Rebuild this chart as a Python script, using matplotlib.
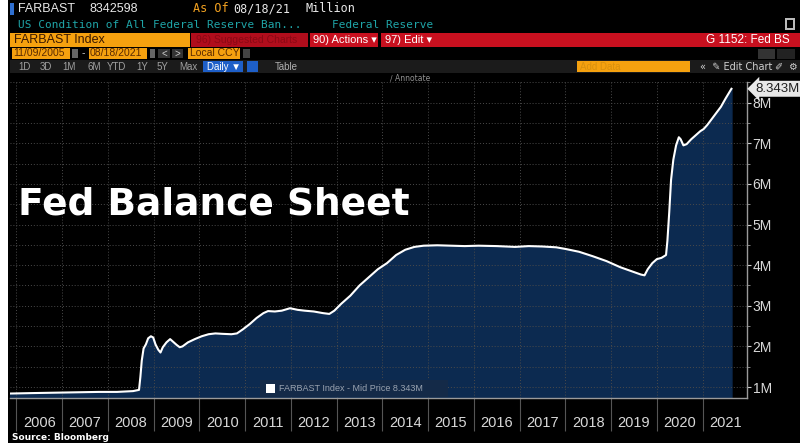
import matplotlib
matplotlib.use("Agg")
import matplotlib.pyplot as plt
from matplotlib.patches import Rectangle
import numpy as np

# FARBAST Index, decimal year vs value (millions of millions)
dates = [2005.86, 2006.3, 2006.8, 2007.3, 2007.8, 2008.2, 2008.55, 2008.68, 2008.71, 2008.74,
         2008.78, 2008.83, 2008.88, 2008.94, 2008.99, 2009.04, 2009.1, 2009.15, 2009.2, 2009.28,
         2009.36, 2009.42, 2009.5, 2009.57, 2009.63, 2009.75, 2009.9, 2010.05, 2010.2, 2010.35,
         2010.5, 2010.7, 2010.82, 2010.95, 2011.1, 2011.25, 2011.4, 2011.5, 2011.65, 2011.8,
         2011.98, 2012.15, 2012.3, 2012.5, 2012.7, 2012.84, 2012.95, 2013.1, 2013.3, 2013.5,
         2013.7, 2013.9, 2014.1, 2014.3, 2014.5, 2014.7, 2014.9, 2015.2, 2015.5, 2015.8,
         2016.1, 2016.5, 2016.9, 2017.2, 2017.5, 2017.8, 2018.0, 2018.3, 2018.6, 2018.9,
         2019.2, 2019.45, 2019.65, 2019.73, 2019.8, 2019.9, 2020.0, 2020.1, 2020.2, 2020.23,
         2020.27, 2020.31, 2020.36, 2020.42, 2020.48, 2020.52, 2020.58, 2020.65, 2020.75, 2020.85,
         2020.95, 2021.02, 2021.1, 2021.2, 2021.3, 2021.4, 2021.5, 2021.58, 2021.63]
values = [0.84, 0.85, 0.86, 0.87, 0.88, 0.88, 0.90, 0.93, 1.25, 1.65,
          1.95, 2.05, 2.20, 2.25, 2.22, 2.05, 1.92, 1.85, 1.98, 2.10,
          2.18, 2.12, 2.04, 1.98, 2.00, 2.10, 2.18, 2.25, 2.30, 2.32,
          2.31, 2.30, 2.32, 2.42, 2.55, 2.70, 2.82, 2.87, 2.86, 2.88,
          2.94, 2.90, 2.88, 2.86, 2.82, 2.80, 2.88, 3.05, 3.25, 3.50,
          3.70, 3.90, 4.05, 4.25, 4.38, 4.45, 4.48, 4.49, 4.48, 4.47,
          4.48, 4.47, 4.45, 4.47, 4.46, 4.44, 4.40, 4.33, 4.22, 4.10,
          3.95, 3.85, 3.77, 3.75, 3.90, 4.05, 4.15, 4.18, 4.25, 4.60,
          5.30, 6.10, 6.60, 6.95, 7.15, 7.10, 6.95, 6.98, 7.10, 7.20,
          7.30, 7.35, 7.45, 7.60, 7.75, 7.90, 8.10, 8.25, 8.343]
years = list(range(2006, 2022))
ytick_vals = [1, 2, 3, 4, 5, 6, 7, 8]
ytick_labels = ["1M", "2M", "3M", "4M", "5M", "6M", "7M", "8M"]
last_label = "8.343M"

W, H = 800, 443
fig = plt.figure(figsize=(8, 4.43), dpi=100, facecolor="black")


def fx(x):
    return x / W


def fy(y):
    return 1 - y / H


def box(x0, y0, x1, y1, color, z=1):
    fig.add_artist(Rectangle((fx(x0), fy(y1)), fx(x1) - fx(x0), fy(y0) - fy(y1),
                             transform=fig.transFigure, facecolor=color, edgecolor="none", zorder=z))


def txt(x, y, s, color="white", size=8, ha="left", family="Liberation Sans", weight="normal"):
    fig.text(fx(x), fy(y), s, color=color, fontsize=size, ha=ha, va="center",
             family=[family, "DejaVu Sans"], fontweight=weight, zorder=5)


# left white strip
box(0, 0, 8, H, "white", z=10)

# header row 1
box(10, 3, 14, 15, "#2f6fd0")
txt(18, 9, "FARBAST", "#e8e8e8", 9)
txt(90, 9, "8342598", "#e8e8e8", 9)
txt(193, 9, "As Of", "#f0a020", 8.5, family="DejaVu Sans Mono")
txt(233, 9, "08/18/21", "#e8e8e8", 8.5, family="DejaVu Sans Mono")
txt(305, 9, "Million", "#e8e8e8", 8.5, family="DejaVu Sans Mono")
# header row 2
txt(18, 25, "US Condition of All Federal Reserve Ban...", "#1fa5a8", 8, family="DejaVu Sans Mono")
txt(332, 25, "Federal Reserve", "#1fa5a8", 8, family="DejaVu Sans Mono")
box(785, 18, 795, 30, "#bbbbbb")
box(787, 20, 793, 28, "black")

# header row 3
box(10, 33, 190, 47, "#f5a10f")
txt(14, 40, "FARBAST Index", "#3a1800", 9)
box(191, 33, 308, 47, "#b00d1c")
txt(196, 40, "96) Suggested Charts", "#8a0814", 7.5)
box(310, 33, 378, 47, "#c8101f")
txt(313, 40, "90) Actions \u25be", "white", 8)
box(381, 33, 800, 47, "#c8101f")
txt(385, 40, "97) Edit \u25be", "white", 8)
txt(790, 40, "G 1152: Fed BS", "white", 8.5, ha="right")

# header row 4
box(12, 48, 70, 59, "#f5a10f")
txt(13, 53.5, "11/09/2005", "#5a2a00", 7.5)
box(72, 49, 78, 58, "#666666")
txt(82, 53.5, "-", "#cccccc", 7.5)
box(89, 48, 147, 59, "#f5a10f")
txt(90, 53.5, "08/18/2021", "#5a2a00", 7.5)
box(150, 49, 155, 58, "#666666")
box(158, 49, 170, 58, "#333333")
txt(164, 53.5, "<", "#cccccc", 7, ha="center")
box(172, 49, 183, 58, "#333333")
txt(177.5, 53.5, ">", "#cccccc", 7, ha="center")
box(188, 48, 240, 59, "#f5a10f")
txt(190, 53.5, "Local CCY", "#5a2a00", 7.5)
box(243, 49, 250, 58, "#444444")
box(758, 49, 775, 59, "#333333")
box(777, 49, 795, 59, "#222222")

# header row 5
box(10, 60, 800, 73, "#1b1b1b")
for lab, xp in zip(["1D", "3D", "1M", "6M", "YTD", "1Y", "5Y", "Max"],
                   [18, 40, 62, 87, 107, 136, 157, 179]):
    txt(xp, 66.5, lab, "#a0a0a0", 7)
box(203, 61, 243, 72, "#1e5fc8")
txt(207, 66.5, "Daily \u25bc", "white", 7)
box(247, 61, 258, 72, "#1e5fc8")
txt(275, 66.5, "Table", "#b0b0b0", 7)
box(577, 61, 690, 72, "#f5a10f")
txt(580, 66.5, "Add Data", "#d8900e", 7)
txt(700, 66.5, "\u00ab  \u270e Edit Chart", "#d0d0d0", 7, family="DejaVu Sans")
txt(774, 66.5, "\u2710", "#d0d0d0", 7, family="DejaVu Sans")
txt(788, 66.5, "\u2699", "#d0d0d0", 7, family="DejaVu Sans")
txt(390, 78, "\u2215 Annotate", "#909090", 5.5, family="DejaVu Sans")

# chart
ax = fig.add_axes([fx(10), fy(398), fx(747) - fx(10), fy(82) - fy(398)])
ax.set_facecolor("black")
ax.fill_between(dates, values, 0, color="#0c2a50", zorder=2)
ax.plot(dates, values, color="white", lw=1.5, zorder=3)
ax.set_xlim(2005.86, 2021.97)
ax.set_ylim(0.73, 8.51)

ax.set_xticks(years)
ax.set_xticklabels([])
ax.set_xticks([y + 0.5 for y in years], minor=True)
ax.set_xticklabels([str(y) for y in years], minor=True)
ax.tick_params(axis="x", which="major", length=24, width=0.8, color="#555555", direction="out")
ax.tick_params(axis="x", which="minor", length=0, pad=13, labelsize=10.5, labelcolor="#d8d8d8")
for lab in ax.get_xticklabels(minor=True):
    lab.set_family("Liberation Sans")

ax.yaxis.tick_right()
ax.set_yticks(ytick_vals)
ax.set_yticklabels(ytick_labels)
ax.set_yticks(np.arange(1.0, 8.6, 0.5), minor=True)
ax.tick_params(axis="y", which="major", length=3, width=0.8, color="#cccccc", pad=1,
               labelsize=10, labelcolor="#d8d8d8")
ax.tick_params(axis="y", which="minor", length=2, width=0.6, color="#999999")
for lab in ax.get_yticklabels():
    lab.set_family("Liberation Sans")

ax.yaxis.grid(True, which="both", color="#4a4a4a", linestyle=(0, (1, 2)), lw=0.7, zorder=1)
ax.xaxis.grid(True, which="major", color="#4a4a4a", linestyle=(0, (1, 2)), lw=0.7, zorder=1)
ax.set_axisbelow(False)
for s in ["left", "top"]:
    ax.spines[s].set_visible(False)
for s in ["bottom", "right"]:
    ax.spines[s].set_color("#9a9a9a")
    ax.spines[s].set_linewidth(1)
    ax.spines[s].set_zorder(4)

# last value tag
ax.text(1.012, values[-1], last_label, transform=ax.get_yaxis_transform(), fontsize=9.5,
        color="#202020", va="center", ha="left", family="Liberation Sans", zorder=6,
        bbox=dict(boxstyle="larrow,pad=0.15", facecolor="#e8e8e8", edgecolor="none"),
        clip_on=False)

# legend box
box(260, 380, 448, 397, "#142a48", z=6)
box(266, 384, 275, 393, "white", z=7)
fig.text(fx(279), fy(388.5), "FARBAST Index - Mid Price 8.343M", color="#9aa3b0",
         fontsize=6.5, va="center", family="Liberation Sans", zorder=7)

# title
fig.text(fx(18), fy(204), "Fed Balance Sheet", color="white", fontsize=27, fontweight="bold",
         va="center", family="DejaVu Sans", zorder=7)

# source
fig.text(fx(12), fy(438), "Source: Bloomberg", color="white", fontsize=6.5, fontweight="bold",
         va="center", family="DejaVu Sans", zorder=7)

fig.savefig("out.png", dpi=100, facecolor="black")
